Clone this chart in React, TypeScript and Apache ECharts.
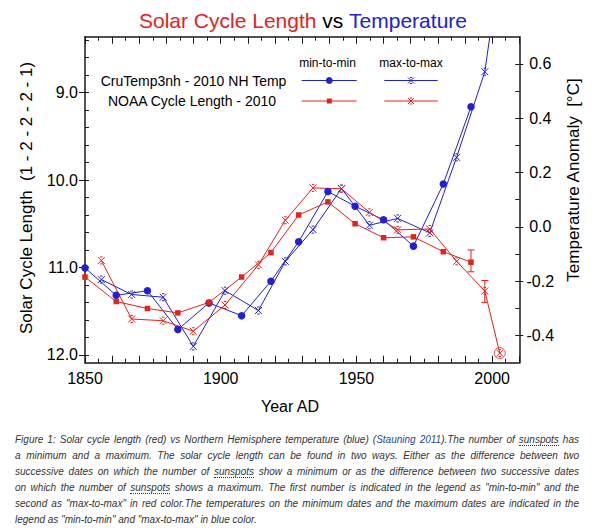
import React, { useEffect, useRef } from 'react';
import * as echarts from 'echarts';

const RED = '#e3231c';
const BLUE = '#2020d8';
const AXIS = '#1a1a1a';
const FONT = "'Liberation Sans', Arial, Helvetica, sans-serif";

// ---- data ----
const minToMinYears = [1850, 1861.5, 1873, 1884.2, 1895.7, 1907.7, 1918.5, 1928.7, 1939.5, 1949.5, 1960, 1971, 1982, 1992.2];
const maxToMaxYears = [1856, 1867.2, 1878.8, 1889.9, 1901.6, 1913.9, 1923.8, 1934, 1944.5, 1954.8, 1965.2, 1977, 1986.9, 1997.3, 2002.8];

const tempMinToMin = [-0.151, -0.252, -0.235, -0.378, -0.28, -0.327, -0.2, -0.055, 0.13, 0.076, 0.026, -0.071, 0.158, 0.442];
const tempMaxToMax = [-0.194, -0.249, -0.259, -0.44, -0.235, -0.308, -0.127, -0.01, 0.141, 0.006, 0.031, -0.022, 0.256, 0.571, 0.96];

const lengthMinToMin = [11.11, 11.39, 11.47, 11.52, 11.4, 11.11, 10.83, 10.4, 10.25, 10.5, 10.66, 10.65, 10.82, 10.94];
const lengthMaxToMax = [10.92, 11.59, 11.61, 11.73, 11.43, 10.97, 10.46, 10.09, 10.1, 10.37, 10.57, 10.56, 10.93, 11.27, 11.98];

const errorBarYears = [1992.2, 1997.3];
const errorBarLow = [10.8, 11.15];
const errorBarHigh = [11.05, 11.4];

const circledYear = [2002.8];
const circledLength = [11.98];

// ---- axes ----
const yearLabels = [1850, 1900, 1950, 2000];
const lengthLabels = [9, 10, 11, 12];
const lengthTicks = [8.4, 8.6, 8.8, 9.0, 9.2, 9.4, 9.6, 9.8, 10.0, 10.2, 10.4, 10.6, 10.8, 11.0, 11.2, 11.4, 11.6, 11.8, 12.0];
const tempLabels = [-0.4, -0.2, 0, 0.2, 0.4, 0.6];
const tempTicks = [-0.4, -0.3, -0.2, -0.1, 0, 0.1, 0.2, 0.3, 0.4, 0.5, 0.6];

const captionLines = [
  'Figure 1: Solar cycle length (red) vs Northern Hemisphere temperature (blue) (Stauning 2011).The number of sunspots has',
  'a minimum and a maximum. The solar cycle length can be found in two ways. Either as the difference between two',
  'successive dates on which the number of sunspots show a minimum or as the difference between two successive dates',
  'on which the number of sunspots shows a maximum. The first number is indicated in the legend as "min-to-min" and the',
  'second as "max-to-max" in red color.The temperatures on the minimum dates and the maximum dates are indicated in the',
  'legend as "min-to-min" and "max-to-max" in blue color.',
];

const X_SYMBOL = 'path://M0,0L10,10M10,0L0,10M3.2,0L6.8,0M3.2,10L6.8,10';

function zip(a: number[], b: number[]) {
  return a.map((v, i) => [v, b[i]]);
}

function xMark(cx: number, cy: number, color: string, s: number) {
  const st = { stroke: color, lineWidth: 1 };
  return {
    type: 'group',
    children: [
      { type: 'line', shape: { x1: cx - s, y1: cy - s, x2: cx + s, y2: cy + s }, style: st },
      { type: 'line', shape: { x1: cx + s, y1: cy - s, x2: cx - s, y2: cy + s }, style: st },
      { type: 'line', shape: { x1: cx - s * 0.35, y1: cy - s, x2: cx + s * 0.35, y2: cy - s }, style: st },
      { type: 'line', shape: { x1: cx - s * 0.35, y1: cy + s, x2: cx + s * 0.35, y2: cy + s }, style: st },
    ],
  };
}

function txt(x: number, y: number, text: string, size: number, color = '#000', rotation = 0) {
  return {
    type: 'text',
    x,
    y,
    rotation,
    style: {
      text,
      fill: color,
      font: `${size}px ${FONT}`,
      align: 'center',
      verticalAlign: 'middle',
      textAlign: 'center',
      textVerticalAlign: 'middle',
    },
  };
}

function buildOption() {
  const xBase = {
    type: 'value',
    min: 1850,
    max: 2010,
    interval: 10,
    splitLine: { show: false },
    axisLine: { show: true, onZero: false, lineStyle: { color: AXIS, width: 1.5 } },
    axisTick: { show: true, inside: true, length: 7, lineStyle: { color: AXIS, width: 1 } },
    minorTick: { show: true, splitNumber: 2, length: 4, lineStyle: { color: AXIS, width: 1 } },
  };
  const leftBase = {
    type: 'value',
    min: 8.36,
    max: 12.09,
    inverse: true,
    position: 'left',
    splitLine: { show: false },
  };
  const rightBase = {
    type: 'value',
    min: -0.5,
    max: 0.7,
    position: 'right',
    splitLine: { show: false },
  };
  const labelStyle = { color: '#000', fontSize: 16, fontFamily: FONT };

  const graphic: any[] = [
    {
      type: 'text',
      x: 303,
      y: 20.5,
      style: {
        text: '{r|Solar Cycle Length} {k|vs} {b|Temperature}',
        font: `21px ${FONT}`,
        fill: '#000',
        align: 'center',
        verticalAlign: 'middle',
        textAlign: 'center',
        textVerticalAlign: 'middle',
        rich: {
          r: { fill: RED, color: RED, fontSize: 21, fontFamily: FONT },
          k: { fill: '#000', color: '#000', fontSize: 21, fontFamily: FONT },
          b: { fill: BLUE, color: BLUE, fontSize: 21, fontFamily: FONT },
        },
      },
    },
    txt(26, 198, 'Solar Cycle Length  (1 - 2 - 2 - 2 - 1)', 17, '#000', Math.PI / 2),
    txt(573, 180, 'Temperature Anomaly  [°C]', 17, '#000', Math.PI / 2),
    txt(290, 406, 'Year AD', 16),
    // legend
    txt(327.5, 63, 'min-to-min', 12),
    txt(411, 63, 'max-to-max', 12),
    txt(193.5, 81, 'CruTemp3nh - 2010 NH Temp', 14),
    txt(192, 101, 'NOAA Cycle Length - 2010', 14),
    { type: 'line', shape: { x1: 301.7, y1: 80.5, x2: 356.7, y2: 80.5 }, style: { stroke: BLUE, lineWidth: 1 } },
    { type: 'circle', shape: { cx: 329.3, cy: 80.5, r: 3.4 }, style: { fill: BLUE } },
    { type: 'line', shape: { x1: 384.3, y1: 80.5, x2: 437.7, y2: 80.5 }, style: { stroke: BLUE, lineWidth: 1 } },
    xMark(411, 80.5, BLUE, 3),
    { type: 'line', shape: { x1: 301.7, y1: 101, x2: 356.7, y2: 101 }, style: { stroke: RED, lineWidth: 1 } },
    { type: 'rect', shape: { x: 326.8, y: 98.5, width: 5, height: 5 }, style: { fill: RED } },
    { type: 'line', shape: { x1: 384.3, y1: 101, x2: 437.7, y2: 101 }, style: { stroke: RED, lineWidth: 1 } },
    xMark(411, 101, RED, 3),
  ];

  return {
    animation: false,
    backgroundColor: '#fff',
    grid: { left: 85, right: 73.7, top: 36.7, bottom: 65.3, containLabel: false },
    xAxis: [
      {
        ...xBase,
        position: 'bottom',
        axisLabel: { ...labelStyle, customValues: yearLabels, margin: 8, formatter: (v: number) => String(v) },
      },
      { ...xBase, position: 'top', axisLabel: { show: false } },
    ],
    yAxis: [
      {
        ...leftBase,
        axisLine: { show: true, onZero: false, lineStyle: { color: AXIS, width: 1.5 } },
        axisTick: { show: true, inside: true, length: 4, customValues: lengthTicks, lineStyle: { color: AXIS } },
        axisLabel: { ...labelStyle, customValues: lengthLabels, margin: 7, formatter: (v: number) => v.toFixed(1) },
      },
      {
        ...leftBase,
        axisLine: { show: false },
        axisTick: { show: true, inside: false, length: 6, customValues: lengthLabels, lineStyle: { color: AXIS } },
        axisLabel: { show: false },
      },
      {
        ...rightBase,
        axisLine: { show: true, onZero: false, lineStyle: { color: AXIS, width: 1.5 } },
        axisTick: { show: true, inside: true, length: 4, customValues: tempTicks, lineStyle: { color: AXIS } },
        axisLabel: { ...labelStyle, customValues: tempLabels, margin: 21, align: 'center', formatter: (v: number) => v.toFixed(1) },
      },
      {
        ...rightBase,
        axisLine: { show: false },
        axisTick: { show: true, inside: false, length: 4, customValues: tempLabels, lineStyle: { color: AXIS } },
        axisLabel: { show: false },
      },
    ],
    graphic,
    series: [
      {
        name: 'CruTemp3nh min-to-min',
        type: 'line',
        xAxisIndex: 0,
        yAxisIndex: 2,
        data: zip(minToMinYears, tempMinToMin),
        symbol: 'circle',
        symbolSize: 7.5,
        showAllSymbol: true,
        lineStyle: { color: BLUE, width: 1 },
        itemStyle: { color: BLUE },
        clip: true,
      },
      {
        name: 'CruTemp3nh max-to-max',
        type: 'line',
        xAxisIndex: 0,
        yAxisIndex: 2,
        data: zip(maxToMaxYears, tempMaxToMax),
        symbol: X_SYMBOL,
        symbolSize: 7,
        showAllSymbol: true,
        lineStyle: { color: BLUE, width: 1 },
        itemStyle: { color: BLUE, borderColor: BLUE, borderWidth: 1 },
        clip: true,
      },
      {
        name: 'NOAA min-to-min',
        type: 'line',
        xAxisIndex: 0,
        yAxisIndex: 0,
        data: zip(minToMinYears, lengthMinToMin),
        symbol: 'rect',
        symbolSize: 5.5,
        showAllSymbol: true,
        lineStyle: { color: RED, width: 1 },
        itemStyle: { color: RED },
        clip: true,
      },
      {
        name: 'NOAA max-to-max',
        type: 'line',
        xAxisIndex: 0,
        yAxisIndex: 0,
        data: zip(maxToMaxYears, lengthMaxToMax),
        symbol: X_SYMBOL,
        symbolSize: 7,
        showAllSymbol: true,
        lineStyle: { color: RED, width: 1 },
        itemStyle: { color: RED, borderColor: RED, borderWidth: 1 },
        clip: true,
      },
      {
        name: 'error bars',
        type: 'custom',
        xAxisIndex: 0,
        yAxisIndex: 0,
        data: errorBarYears.map((y, i) => [y, errorBarLow[i], errorBarHigh[i]]),
        encode: { x: 0, y: [1, 2] },
        renderItem: (params: any, api: any) => {
          const x = api.value(0);
          const lo = api.coord([x, api.value(1)]);
          const hi = api.coord([x, api.value(2)]);
          const st = { stroke: RED, lineWidth: 1 };
          const w = 3.5;
          return {
            type: 'group',
            children: [
              { type: 'line', shape: { x1: lo[0], y1: lo[1], x2: hi[0], y2: hi[1] }, style: st },
              { type: 'line', shape: { x1: lo[0] - w, y1: lo[1], x2: lo[0] + w, y2: lo[1] }, style: st },
              { type: 'line', shape: { x1: hi[0] - w, y1: hi[1], x2: hi[0] + w, y2: hi[1] }, style: st },
            ],
          };
        },
      },
      {
        name: 'latest',
        type: 'scatter',
        xAxisIndex: 0,
        yAxisIndex: 0,
        data: zip(circledYear, circledLength),
        symbol: 'circle',
        symbolSize: 11,
        itemStyle: { color: 'rgba(0,0,0,0)', borderColor: RED, borderWidth: 1 },
      },
    ],
  };
}

function renderCaptionLine(text: string) {
  const parts = text.split(/(sunspots|Stauning 2011)/);
  return parts.map((p, i) => {
    if (p === 'sunspots') {
      return (
        <span key={i} style={{ borderBottom: '1px dotted #333' }}>
          {p}
        </span>
      );
    }
    if (p === 'Stauning 2011') {
      return (
        <span key={i} style={{ color: '#1d47a3' }}>
          {p}
        </span>
      );
    }
    return <React.Fragment key={i}>{p}</React.Fragment>;
  });
}

export default function App() {
  const ref = useRef<HTMLDivElement>(null);
  useEffect(() => {
    if (!ref.current) return;
    const chart = echarts.init(ref.current, null, { renderer: 'svg' });
    chart.setOption(buildOption() as any);
    return () => chart.dispose();
  }, []);
  return (
    <div style={{ position: 'fixed', left: 0, top: 0, width: 593, height: 530, background: '#fff', overflow: 'hidden' }}>
      <div ref={ref} style={{ position: 'absolute', left: 0, top: 0, width: 593, height: 428 }} />
      <div
        style={{
          position: 'absolute',
          left: 15,
          top: 432,
          width: 564,
          fontFamily: FONT,
          fontStyle: 'italic',
          fontSize: 10,
          color: '#333',
        }}
      >
        {captionLines.map((line, i) => (
          <div
            key={i}
            style={{
              height: 16,
              lineHeight: '16px',
              textAlign: 'justify',
              textAlignLast: i === captionLines.length - 1 ? 'left' : 'justify',
            } as any}
          >
            {renderCaptionLine(line)}
          </div>
        ))}
      </div>
    </div>
  );
}
